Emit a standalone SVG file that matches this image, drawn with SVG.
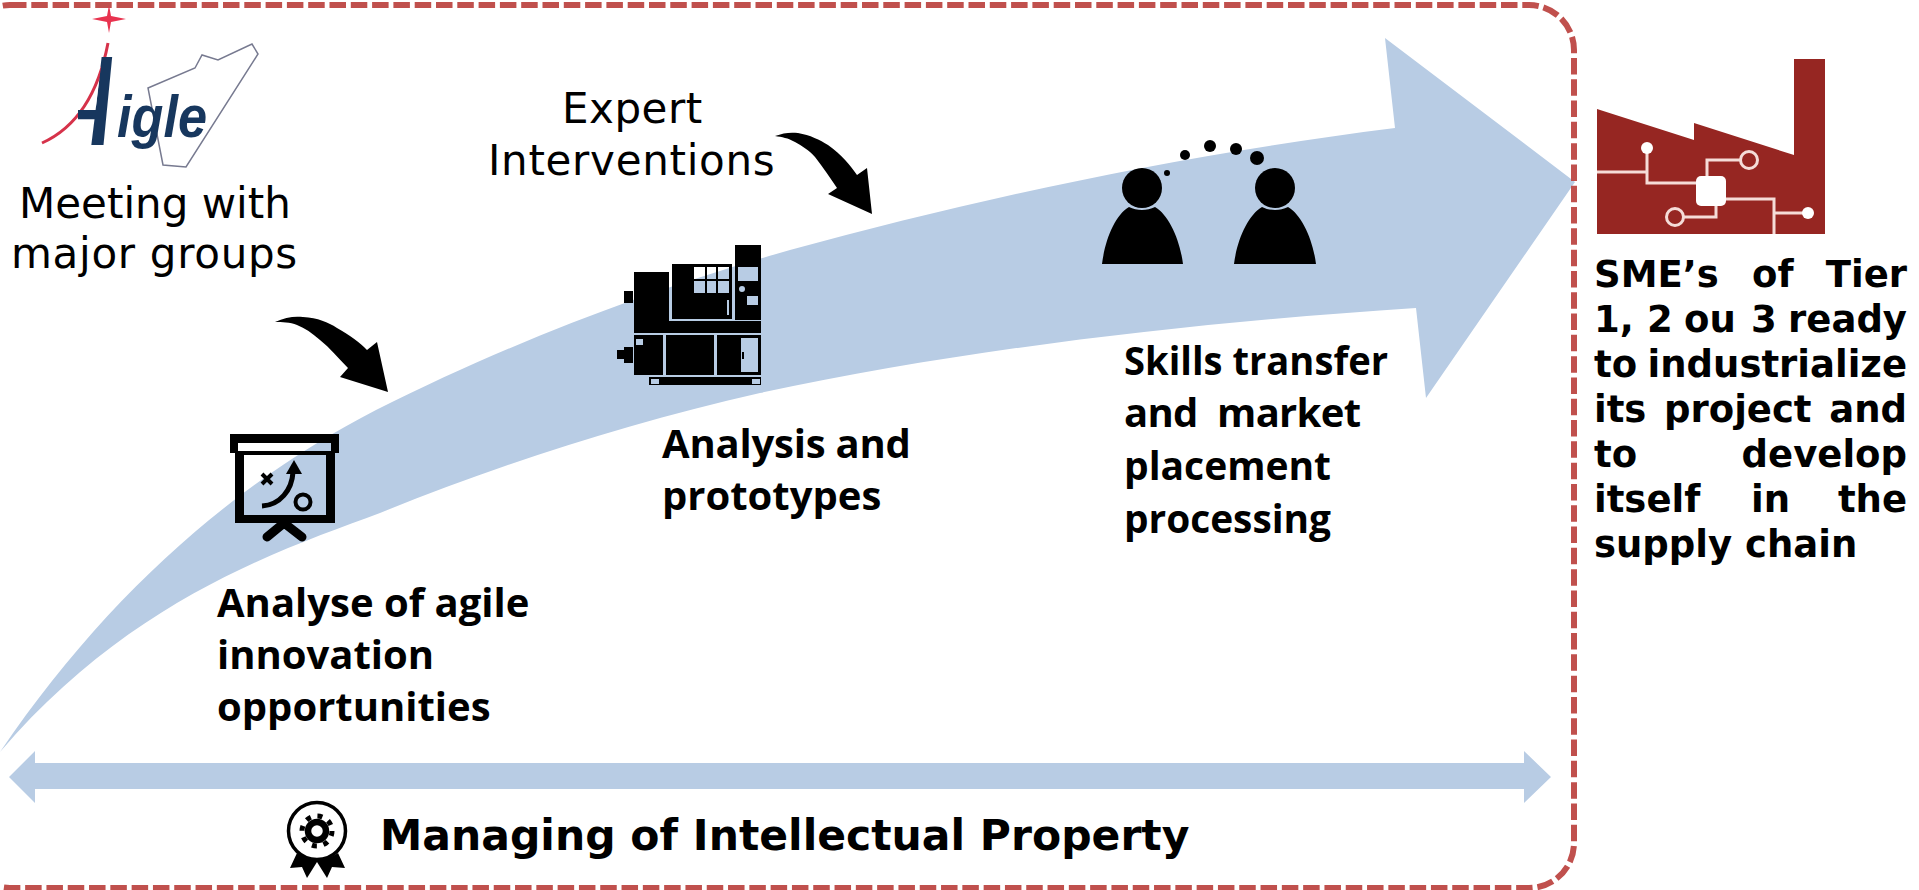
<svg xmlns="http://www.w3.org/2000/svg" width="1919" height="890" viewBox="0 0 1919 890">
<style>
.r{font-family:"DejaVu Sans",sans-serif;font-size:42px;fill:#000}
.b{font-family:"Open Sans","Noto Sans",sans-serif;font-weight:700;font-size:40px;fill:#000}
.v{font-family:"DejaVu Sans",sans-serif;font-weight:700;font-size:37px;fill:#000}
.e{text-anchor:end}
.k{fill:#000}
.blue{fill:#b8cce4}
.logo{font-family:"Liberation Sans",sans-serif;font-style:italic;font-weight:700;fill:#17375e}
</style>
<defs><clipPath id="aclip"><path d="M103 45H125V160H78V106H96Z"/></clipPath></defs>
<rect width="1919" height="890" fill="#fff"/>
<g id="connectors">
<path id="main-arrow" class="blue" d="M0 752C110 590 240 480 376 410C520 338 650 290 790 250C980 198 1180 155 1395 128L1385 38L1575 182L1426 398L1416 308C1200 322 970 348 760 393C620 425 490 468 380 513C280 550 130 600 0 752Z"/>
<path id="ip-arrow" class="blue" d="M9 777L35 751V763H1524V751L1551 777L1524 803V789H35V803Z"/>
<path id="arrow-1" class="k" d="M275 322C285 317 295 316 303 317C318 318 328 322 337 328C350 335 360 343 367 350L377 342L388 392L340 377L348 368C338 358 330 348 320 340C312 333 305 328 297 325C290 322 282 322 275 322Z"/>
<path id="arrow-2" class="k" d="M775 136C783 133 790 132 798 133C810 135 820 140 828 145C842 155 850 165 857 175L867 168L872 214L828 194L837 188C830 178 823 167 815 157C809 150 802 146 795 142C788 138 782 137 775 136Z"/>
</g>
<g id="frame"><rect x="-35" y="5" width="1609" height="883" rx="45" fill="none" stroke="#c0504d" stroke-width="6" stroke-dasharray="16.5 4.8"/></g>
<g id="aigle-logo">
<path d="M109 5L111 16L126 19L111 22L109 33L107 22L92 19L107 16Z" fill="#e8334f"/>
<path d="M108 43C100 85 82 125 42 143" fill="none" stroke="#d6324a" stroke-width="3"/>
<path d="M148 88L195 68L202 55L218 60L252 44L258 54L186 167L163 165Z" fill="none" stroke="#777a90" stroke-width="1.5"/>
<g clip-path="url(#aclip)"><text class="logo" style="font-weight:400" transform="translate(25 145) skewX(-17)" font-size="128">A</text></g>
<text class="logo" x="117" y="137" font-size="60" textLength="90" lengthAdjust="spacingAndGlyphs">igle</text>
</g>
<g id="meeting"><text class="r" x="19" y="218">Meeting with</text><text class="r" x="11" y="268" letter-spacing=".7">major groups</text></g>
<g id="expert"><text class="r" x="562" y="123" letter-spacing=".5">Expert</text><text class="r" x="488" y="175" letter-spacing=".7">Interventions</text></g>
<g id="step-analyse">
<path class="k" fill-rule="evenodd" d="M230 434H339V453H335V523H235V453H230ZM238 443V451H331V443ZM244 455V515H326V455Z"/>
<path d="M267 537L284 523L302 537" fill="none" stroke="#000" stroke-width="9" stroke-linecap="round" stroke-linejoin="round"/>
<path d="M262 506C280 505 292 490 293 472" fill="none" stroke="#000" stroke-width="5"/>
<path class="k" d="M294 460L302 474H286Z"/>
<path d="M262 474L272 484M272 474L262 484" stroke="#000" stroke-width="4"/>
<circle cx="303" cy="502" r="7.5" fill="none" stroke="#000" stroke-width="4"/>
<text class="b"><tspan x="217" y="617">Analyse of agile</tspan><tspan x="217" y="669">innovation</tspan><tspan x="217" y="721">opportunities</tspan></text>
</g>
<g id="step-prototype">
<path class="k" fill-rule="evenodd" d="M735 245H761V320H735ZM738 267V281H758V267ZM747 296V305H758V296ZM739 289A3 3 0 1 0 745 289A3 3 0 1 0 739 289ZM672 264H732V319H672ZM694 267V293H729V267ZM727 300V315H729V300ZM634 272H669V321H761V333H634ZM624 291H633V303H624ZM634 335H663V375H634ZM636 339V345H643V339ZM666 335H714V375H666ZM717 335H761V375H717ZM741 338V372H758V338ZM624 347H633V363H624ZM617 350H624V359H617ZM649 377H761V385H649ZM651 379V384H659V379ZM752 379V384H760V379Z"/>
<path d="M706 267V293M717 267V293M694 280H729M743 352V359" stroke="#000" stroke-width="2"/>
<text class="b"><tspan x="662" y="458" letter-spacing="-.2">Analysis and</tspan><tspan x="662" y="510">prototypes</tspan></text>
</g>
<g id="step-skills">
<circle class="k" cx="1142" cy="188" r="20"/><circle class="k" cx="1275" cy="188" r="20"/>
<path class="k" d="M1102 264C1105 240 1115 215 1129 207C1137 211 1147 211 1155 207C1169 215 1180 240 1183 264Z"/>
<path class="k" d="M1234 264C1237 240 1248 215 1262 207C1270 211 1280 211 1288 207C1302 215 1313 240 1316 264Z"/>
<circle class="k" cx="1167" cy="173" r="3"/><circle class="k" cx="1185" cy="155" r="5"/><circle class="k" cx="1210" cy="146" r="6"/><circle class="k" cx="1236" cy="149" r="6"/><circle class="k" cx="1257" cy="158" r="7"/>
<text class="b"><tspan x="1124" y="375" textLength="264" lengthAdjust="spacingAndGlyphs">Skills transfer</tspan><tspan x="1124" y="427" textLength="237" lengthAdjust="spacing" xml:space="preserve">and  market</tspan><tspan x="1124" y="480" textLength="207" lengthAdjust="spacingAndGlyphs">placement</tspan><tspan x="1124" y="533" textLength="207" lengthAdjust="spacingAndGlyphs">processing</tspan></text>
</g>
<g id="factory">
<path d="M1597 109L1694 140V123L1794 155V59H1825V234H1597Z" fill="#962622"/>
<g fill="none" stroke="#f5dcd8" stroke-width="3">
<path d="M1597 172H1647M1647 148V183H1697M1707 176V160H1740M1716 206V217H1683M1726 199H1774V234M1774 213H1803"/>
<circle cx="1749" cy="160" r="8.5"/><circle cx="1675" cy="217" r="8.5"/>
</g>
<circle cx="1647" cy="148" r="6" fill="#fff"/><circle cx="1808" cy="213" r="6" fill="#fff"/>
<rect x="1696" y="176" width="30" height="30" rx="5" fill="#fff"/>
</g>
<g id="sme">
<text class="v"><tspan x="1594" y="287">SME’s</tspan><tspan x="1752" y="287">of</tspan><tspan class="e" x="1907" y="287">Tier</tspan></text>
<text class="v"><tspan x="1594" y="332">1,</tspan><tspan x="1647" y="332">2</tspan><tspan x="1684" y="332">ou</tspan><tspan x="1751" y="332">3</tspan><tspan class="e" x="1907" y="332">ready</tspan></text>
<text class="v"><tspan x="1594" y="377">to</tspan><tspan class="e" x="1907" y="377">industrialize</tspan></text>
<text class="v"><tspan x="1594" y="422">its</tspan><tspan x="1664" y="422">project</tspan><tspan class="e" x="1907" y="422">and</tspan></text>
<text class="v"><tspan x="1594" y="467">to</tspan><tspan class="e" x="1907" y="467">develop</tspan></text>
<text class="v"><tspan x="1594" y="512">itself</tspan><tspan x="1751" y="512">in</tspan><tspan class="e" x="1907" y="512">the</tspan></text>
<text class="v" x="1594" y="557">supply chain</text>
</g>
<g id="ip">
<circle cx="317" cy="831" r="28.5" fill="none" stroke="#000" stroke-width="3.5"/>
<path class="k" d="M297 853L290 868L302 867L307 878L317 862L327 878L332 867L345 868L338 853C325 862 310 862 297 853Z"/>
<circle cx="317" cy="831" r="9" fill="none" stroke="#000" stroke-width="6.5"/>
<circle cx="317" cy="831" r="15" fill="none" stroke="#000" stroke-width="5" stroke-dasharray="5 6.78"/>
<text class="v" x="380" y="850" style="font-size:42.5px">Managing of Intellectual Property</text>
</g>
</svg>
